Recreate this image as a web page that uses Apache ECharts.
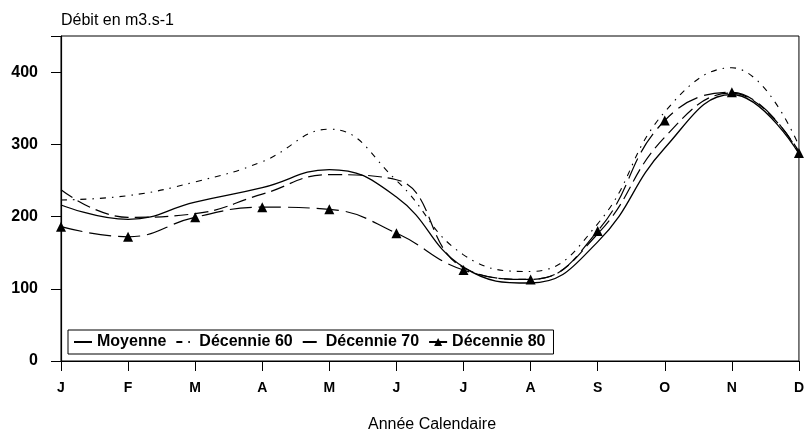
<!DOCTYPE html>
<html>
<head>
<meta charset="utf-8">
<script src="https://cdn.jsdelivr.net/npm/echarts@6/dist/echarts.min.js"></script>
<style>
html,body{margin:0;padding:0;background:#fff;}
#c{width:807px;height:432px;}
</style>
</head>
<body>
<div id="c"></div>
<script>
const months = ['J','F','M','A','M','J','J','A','S','O','N','D'];
const moyenne = [216,196,220,240,265,227,130,108,165,295,369,287];
const dec60 = [223,229,248,276,321,250,147,124,190,345,406,298];
const dec70 = [237,199,204,231,258,251,129,113,176,310,371,290];
const dec80 = [186,172,199,213,210,177,126,113,180,333,372,288];
const yTicks = {min:0, max:450, interval:100};

const FONT = '"Liberation Sans", Arial, sans-serif';
const chart = echarts.init(document.getElementById('c'));
function plainLine(name, data, width, type){
  return {name:name,type:'line',data:data,smooth:0.45,symbol:'circle',showSymbol:false,
    lineStyle:{color:'#000',width:width,type:type},
    itemStyle:{color:'transparent',borderWidth:0}};
}
chart.setOption({
  animation:false,
  backgroundColor:'#fff',
  grid:{left:61,right:3.5,top:36,bottom:71,show:true,borderColor:'#000',borderWidth:1,backgroundColor:'transparent'},
  xAxis:{
    type:'category', data:months, boundaryGap:false,
    axisLine:{lineStyle:{color:'#000',width:1.2}},
    axisTick:{show:true,length:10,inside:false,alignWithLabel:true,interval:0,lineStyle:{color:'#000'}},
    axisLabel:{interval:0,margin:20,color:'#000',fontSize:14,fontWeight:'bold',fontFamily:FONT},
    splitLine:{show:false}
  },
  yAxis:{
    type:'value', min:yTicks.min, max:yTicks.max, interval:yTicks.interval,
    axisLine:{show:true,lineStyle:{color:'#000',width:1.2}},
    axisTick:{show:true,length:10,lineStyle:{color:'#000'}},
    axisLabel:{margin:23,color:'#000',fontSize:16,fontWeight:'bold',fontFamily:FONT,
      formatter:function(v){return v>400?'':String(v);}},
    splitLine:{show:false}
  },
  legend:{
    left:68, top:330, orient:'horizontal',
    itemWidth:18, itemHeight:10, itemGap:9,
    borderColor:'#000', borderWidth:1, padding:[4,8,4,5],
    backgroundColor:'#fff',
    textStyle:{color:'#000',fontSize:16,fontWeight:'bold',fontFamily:FONT},
    data:['Moyenne','Décennie 60','Décennie 70','Décennie 80']
  },
  graphic:[
    {type:'text',left:61,top:13,style:{text:'Débit en m3.s-1',font:'16px '+FONT,fill:'#000'}},
    {type:'text',x:432,y:425,style:{text:'Année Calendaire',font:'16px '+FONT,fill:'#000',textAlign:'center',textVerticalAlign:'middle'}}
  ],
  series:[
    plainLine('Moyenne', moyenne, 1.3, 'solid'),
    plainLine('Décennie 60', dec60, 1.1, [6,6,1.5,6]),
    plainLine('Décennie 70', dec70, 1.2, [14,6]),
    {name:'Décennie 80',type:'line',data:dec80,smooth:0.45,symbol:'triangle',symbolSize:10,showAllSymbol:true,
      lineStyle:{color:'#000',width:1.2,type:[22,7]},itemStyle:{color:'#000'}}
  ]
});
</script>
</body>
</html>
